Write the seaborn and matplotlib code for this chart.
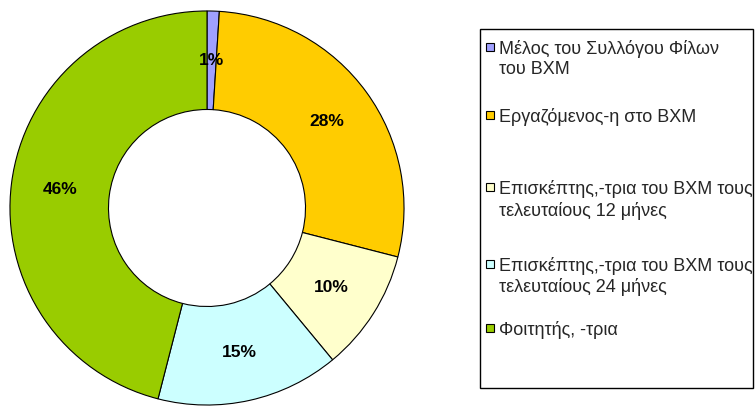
import seaborn as sns
import matplotlib.pyplot as plt
from matplotlib.patches import Rectangle

sns.set_style("white")
plt.rcParams['font.family'] = ['Liberation Sans', 'DejaVu Sans']

# data
labels = ['Μέλος του Συλλόγου Φίλων\nτου ΒΧΜ',
          'Εργαζόμενος-η στο ΒΧΜ',
          'Επισκέπτης,-τρια του ΒΧΜ τους\nτελευταίους 12 μήνες',
          'Επισκέπτης,-τρια του ΒΧΜ τους\nτελευταίους 24 μήνες',
          'Φοιτητής, -τρια']
shares = [1, 28, 10, 15, 46]
colors = ['#A0A0FF', '#FFCC00', '#FFFFCC', '#CCFFFF', '#99CC00']

W, H = 756, 407
fig = plt.figure(figsize=(W / 100, H / 100), dpi=100)

# donut
ax = fig.add_axes([8 / W, 0 / H, 398 / W, 398 / H])
wedges, texts, autotexts = ax.pie(
    shares, colors=colors, startangle=90, counterclock=False,
    autopct='%.0f%%', pctdistance=0.75,
    wedgeprops=dict(width=0.5, edgecolor='black', linewidth=0.8),
    textprops=dict(fontsize=12.5, fontweight='bold', color='black'))
ax.set_xlim(-1.01, 1.01)
ax.set_ylim(-1.01, 1.01)

# legend box (drawn by hand so the marker sits on the first text line)
fig.patches.append(Rectangle((480 / W, 1 - 388 / H), 273 / W, 359 / H,
                             transform=fig.transFigure, fill=False,
                             edgecolor='black', linewidth=1))
legend_y = [47, 115, 187, 264, 328]
for lab, col, y in zip(labels, colors, legend_y):
    fig.patches.append(Rectangle((486 / W, 1 - (y + 4) / H), 8 / W, 8 / H,
                                 transform=fig.transFigure, facecolor=col,
                                 edgecolor='black', linewidth=0.8))
    fig.text(499 / W, 1 - (y - 7) / H, lab, fontsize=13, va='top', ha='left',
             linespacing=1.25)

plt.savefig('out.png', dpi=100)
